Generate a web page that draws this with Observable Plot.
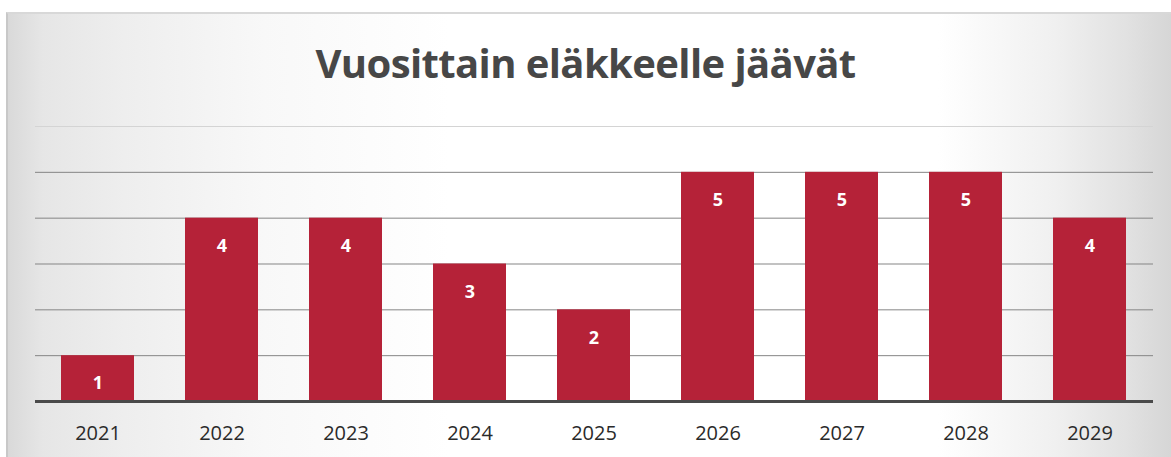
<!DOCTYPE html>
<html>
<head>
<meta charset="utf-8">
<script src="https://cdn.jsdelivr.net/npm/d3@7"></script>
<script src="https://cdn.jsdelivr.net/npm/@observablehq/plot@0.6"></script>
<style>
  html, body { margin: 0; padding: 0; }
  body {
    width: 1171px; height: 457px; overflow: hidden; position: relative;
    background: #ffffff;
    font-family: "Open Sans", sans-serif;
  }
  #bg {
    position: absolute; left: 6px; top: 12px; right: 0; bottom: 0;
    background: linear-gradient(90deg, #d9d9d9 0%, #e6e6e6 3%, #eeeeee 10%, #f8f8f8 22%, #ffffff 38%, #ffffff 80%, #f0f0f0 90%, #e2e2e2 96%, #d6d6d6 100%);
    border-top: 2px solid #d8d8d8;
    border-left: 2px solid #c8c8c8;
    z-index: 0;
  }
  #title {
    position: relative; z-index: 1;
    height: 115px; box-sizing: border-box; padding-top: 37px;
    text-align: center; font-size: 40px; font-weight: 700; color: #474747;
    letter-spacing: -0.6px; line-height: 52px;
  }
  #chart { position: relative; z-index: 1; }
</style>
</head>
<body>
<div id="bg"></div>
<div id="title">Vuosittain eläkkeelle jäävät</div>
<div id="chart"></div>
<script>
const years = ["2021","2022","2023","2024","2025","2026","2027","2028","2029"];
const values = [1, 4, 4, 3, 2, 5, 5, 5, 4];
const gridValues = [1, 2, 3, 4, 5];
const topGrid = [6];

const data = years.map((y, i) => ({year: y, value: values[i]}));

const chart = Plot.plot({
  width: 1171,
  height: 342,
  marginTop: 11,
  marginBottom: 56,
  marginLeft: 35,
  marginRight: 18,
  style: {background: "transparent", fontFamily: "Open Sans, sans-serif"},
  x: {domain: years, paddingInner: 0.41, paddingOuter: 0.21, label: null},
  y: {domain: [0, 6], axis: null},
  marks: [
    Plot.ruleY(topGrid, {stroke: "#d4d4d4", strokeWidth: 1}),
    Plot.ruleY(gridValues, {stroke: "#858585", strokeWidth: 1}),
    Plot.barY(data, {x: "year", y: "value", fill: "#b52238"}),
    Plot.text(data, {x: "year", y: "value", text: d => String(d.value), dy: 28, fill: "white", fontWeight: "bold", fontSize: 18}),
    Plot.ruleY([0], {stroke: "#4a4a4a", strokeWidth: 3}),
    Plot.axisX({fontSize: 20, tickSize: 0, tickPadding: 24, color: "#2a2a2a"})
  ]
});
document.getElementById("chart").appendChild(chart);
</script>
</body>
</html>
